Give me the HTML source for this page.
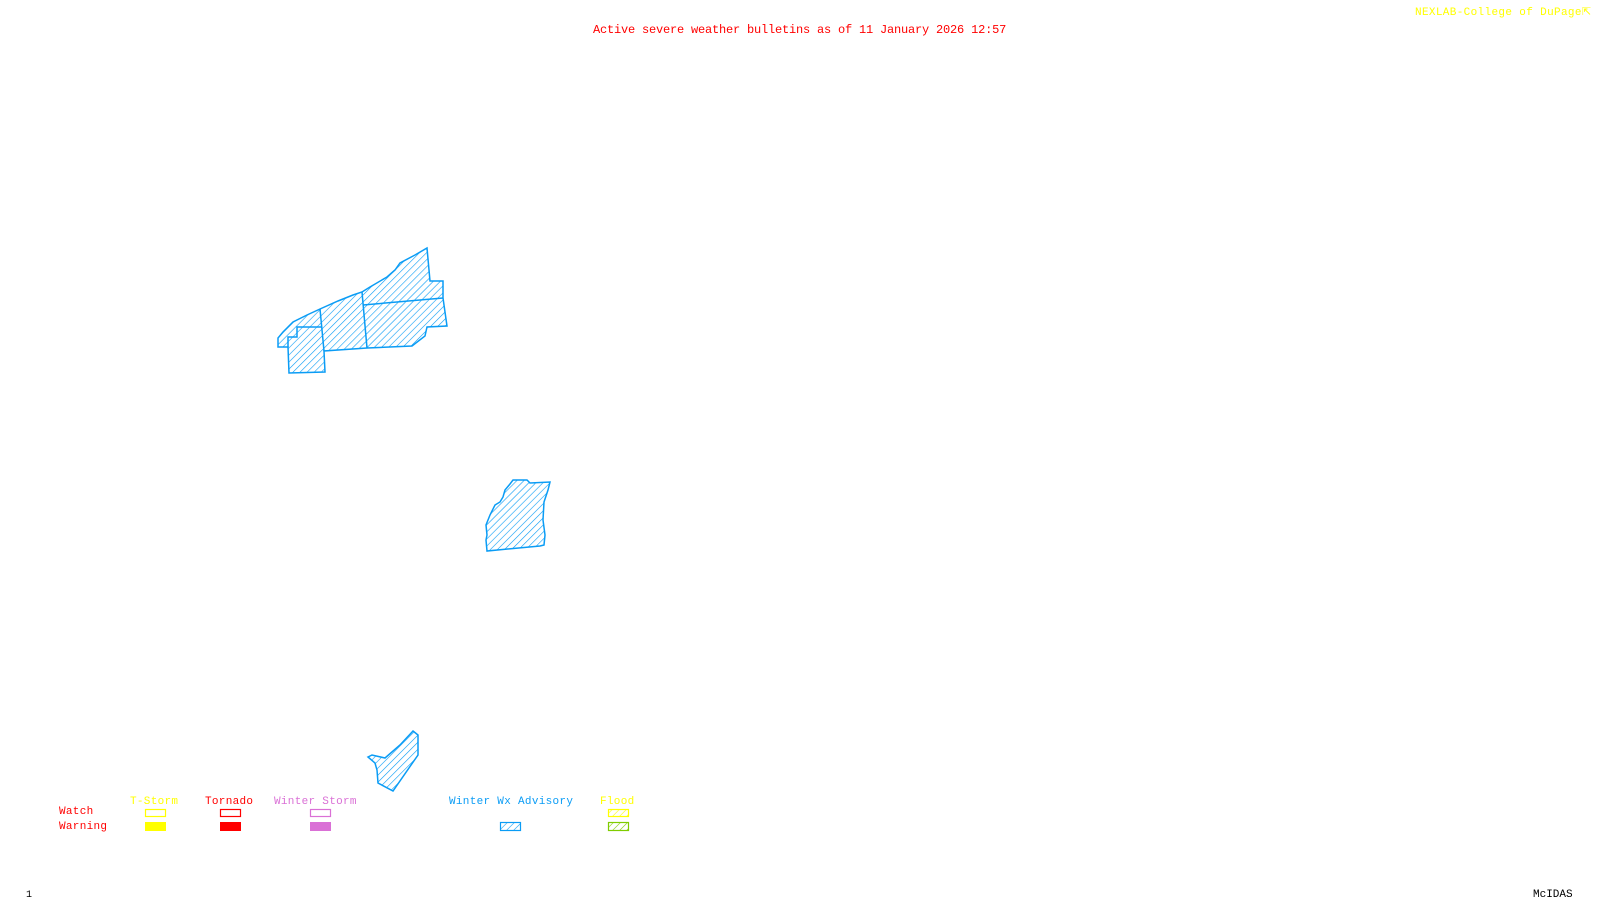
<!DOCTYPE html>
<html><head><meta charset="utf-8"><style>
html,body{margin:0;padding:0;background:#fff;width:1600px;height:900px;overflow:hidden}
.t{position:absolute;font-family:"Liberation Mono",monospace;white-space:nowrap;line-height:1}
</style></head><body>
<svg width="1600" height="900" style="position:absolute;left:0;top:0">
<defs>
<pattern id="h" patternUnits="userSpaceOnUse" width="5" height="5" patternTransform="rotate(45)">
<line x1="0" y1="0" x2="0" y2="5" stroke="#0a9cf5" stroke-width="1.2"/></pattern>
<pattern id="hy" patternUnits="userSpaceOnUse" width="5" height="5" patternTransform="rotate(45)">
<line x1="0" y1="0" x2="0" y2="5" stroke="#ffff00" stroke-width="1.2"/></pattern>
<pattern id="hg" patternUnits="userSpaceOnUse" width="5" height="5" patternTransform="rotate(45)">
<line x1="0" y1="0" x2="0" y2="5" stroke="#7fcc00" stroke-width="1.2"/></pattern>
</defs>
<g fill="url(#h)" stroke="#0a9cf5" stroke-width="1.5">
<polygon points="278,338 278,347 288,347 289,373 325,372 324,351 367,348 412,346 425,336 427,327 447,326 443,298 443,281 430,281 427,248 415,255 400,263 395,270 387,277 370,287 362,292 353,295 338,301 320,309 307,315 293,322 283,332"/>
<polygon points="513,480 527,480 530,483 550,482 548,490 544,502 543,520 545,535 544,545 540,546 487,551 486,540 487,535 486,525 490,515 495,505 500,502 503,497 505,490 510,484"/>
<polygon points="413,731 418,735 418,755 393,791 378,783 377,770 375,763 368,757 372,755 385,758 400,745"/>
</g>
<g fill="none" stroke="#0a9cf5" stroke-width="1.5">
<polyline points="320,309 324,351"/>
<polyline points="288,347 288,337 297,337 297,327 322,327"/>
<polyline points="362,292 367,348"/>
<polyline points="363,305 443,298"/>
</g>
<rect x="145.5" y="809.5" width="20" height="7" fill="none" stroke="#ffff00" stroke-width="1.2"/>
<rect x="145" y="822" width="21" height="9" fill="#ffff00"/>
<rect x="220.5" y="809.5" width="20" height="7" fill="none" stroke="#ff0000" stroke-width="1.2"/>
<rect x="220" y="822" width="21" height="9" fill="#ff0000"/>
<rect x="310.5" y="809.5" width="20" height="7" fill="none" stroke="#da70d6" stroke-width="1.2"/>
<rect x="310" y="822" width="21" height="9" fill="#da70d6"/>
<rect x="500.5" y="822.5" width="20" height="8" fill="url(#h)" stroke="#0a9cf5" stroke-width="1.2"/>
<rect x="608.5" y="809.5" width="20" height="7" fill="url(#hy)" stroke="#ffff00" stroke-width="1.2"/>
<rect x="608.5" y="822.5" width="20" height="8" fill="url(#hg)" stroke="#7fcc00" stroke-width="1.2"/>
</svg>
<div class="t" style="left:593px;top:24px;font-size:12px;letter-spacing:-0.2px;color:#ff0000">Active severe weather bulletins as of 11 January 2026 12:57</div>
<div class="t" style="left:1415px;top:8px;font-size:11px;letter-spacing:0.35px;color:#ffff00">NEXLAB-College of DuPage&#8689;</div>
<div class="t" style="left:130px;top:797px;font-size:11px;letter-spacing:0.3px;color:#ffff00">T-Storm</div>
<div class="t" style="left:205px;top:797px;font-size:11px;letter-spacing:0.3px;color:#ff0000">Tornado</div>
<div class="t" style="left:274px;top:797px;font-size:11px;letter-spacing:0.3px;color:#da70d6">Winter Storm</div>
<div class="t" style="left:449px;top:797px;font-size:11px;letter-spacing:0.3px;color:#0a9cf5">Winter Wx Advisory</div>
<div class="t" style="left:600px;top:797px;font-size:11px;letter-spacing:0.3px;color:#ffff00">Flood</div>
<div class="t" style="left:59px;top:807px;font-size:11px;letter-spacing:0.3px;color:#ff0000">Watch</div>
<div class="t" style="left:59px;top:822px;font-size:11px;letter-spacing:0.3px;color:#ff0000">Warning</div>
<div class="t" style="left:26px;top:891px;font-size:10px;color:#000">1</div>
<div class="t" style="left:1533px;top:890px;font-size:11px;color:#000">McIDAS</div>
</body></html>
